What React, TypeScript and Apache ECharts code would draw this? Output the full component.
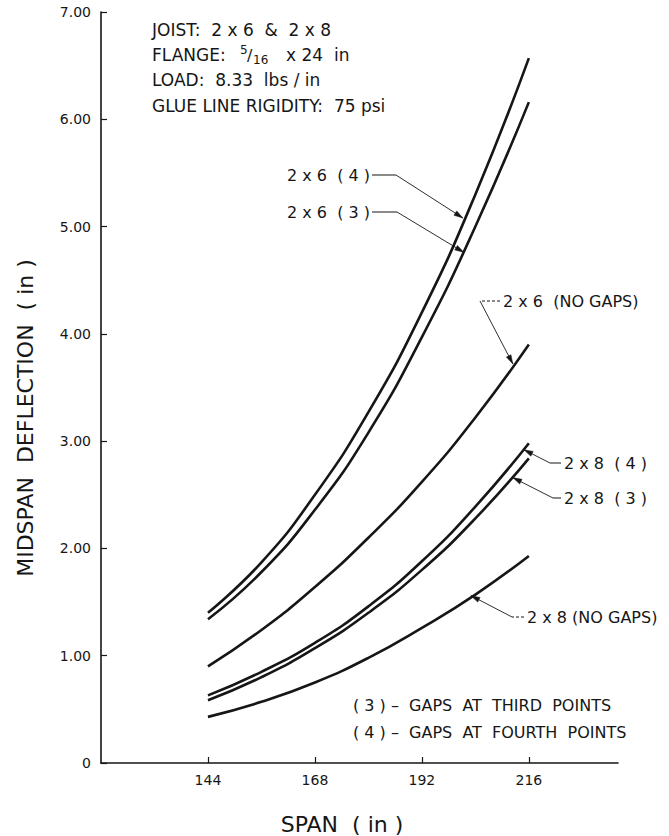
import React, { useEffect, useRef } from "react";
import * as echarts from "echarts";

const FONT = "'DejaVu Sans', 'Liberation Sans', sans-serif";
const INK = "#161616";

// Span (in) at which the curves were read
const spans = [144, 156, 168, 180, 192, 204, 216];

// Midspan deflection (in)
const joist2x6Gap4 = [1.4, 1.87, 2.5, 3.27, 4.2, 5.3, 6.57];
const joist2x6Gap3 = [1.34, 1.78, 2.36, 3.08, 3.97, 5.0, 6.16];
const joist2x6NoGap = [0.9, 1.24, 1.64, 2.1, 2.62, 3.22, 3.9];
const joist2x8Gap4 = [0.63, 0.85, 1.12, 1.46, 1.88, 2.39, 2.98];
const joist2x8Gap3 = [0.585, 0.8, 1.07, 1.4, 1.8, 2.28, 2.84];
const joist2x8NoGap = [0.43, 0.57, 0.75, 0.98, 1.26, 1.57, 1.93];

const seriesNames = ["2x6 (4)", "2x6 (3)", "2x6 (NO GAPS)", "2x8 (4)", "2x8 (3)", "2x8 (NO GAPS)"];
const seriesValues = [joist2x6Gap4, joist2x6Gap3, joist2x6NoGap, joist2x8Gap4, joist2x8Gap3, joist2x8NoGap];

// Axis ticks
const xTickValues = [144, 168, 192, 216];
const yTickValues = [0, 1, 2, 3, 4, 5, 6, 7];

// Curve labels and where their arrows touch the curves (data coords)
const curveLabelTexts = ["2 x 6  ( 4 )", "2 x 6  ( 3 )", "2 x 6  (NO GAPS)", "2 x 8  ( 4 )", "2 x 8  ( 3 )", "2 x 8 (NO GAPS)"];
const arrowTipSpans = [201.2, 201.4, 212.4, 214.9, 212.4, 203.0];
const arrowTipValues = [5.08, 4.76, 3.72, 2.92, 2.66, 1.56];

// Header notes
const noteLines = ["JOIST:  2 x 6  &  2 x 8", "FLANGE:", "LOAD:  8.33  lbs / in", "GLUE LINE RIGIDITY:  75 psi"];
const legendLines = ["( 3 ) –  GAPS  AT  THIRD  POINTS", "( 4 ) –  GAPS  AT  FOURTH  POINTS"];

// label layout (pixels)
const labelLayout = [
  { x: 287, y: 175, start: 372, elbow: 396, dashed: false },
  { x: 287, y: 212, start: 372, elbow: 397, dashed: false },
  { x: 503, y: 301, start: 500, elbow: 480, dashed: true },
  { x: 564, y: 463, start: 561, elbow: 550, dashed: false },
  { x: 564, y: 498, start: 561, elbow: 553, dashed: false },
  { x: 527, y: 617, start: 524, elbow: 512, dashed: true },
];

export default function App() {
  const ref = useRef<HTMLDivElement>(null);

  useEffect(() => {
    if (!ref.current) return;
    const chart = echarts.init(ref.current, null, { renderer: "svg" });

    const series = seriesValues.map((vals, i) => ({
      name: seriesNames[i],
      type: "line",
      data: spans.map((s, j) => [s, vals[j]]),
      smooth: 0.5,
      showSymbol: false,
      symbol: "none",
      lineStyle: { color: INK, width: 2.6 },
      silent: true,
    }));

    chart.setOption({
      animation: false,
      backgroundColor: "#ffffff",
      grid: { left: 101, right: 51, top: 12, bottom: 73 },
      xAxis: {
        type: "value",
        min: 120,
        max: 236,
        interval: 24,
        axisLine: { show: true, lineStyle: { color: INK, width: 1.6 } },
        axisTick: { show: true, inside: true, length: 6, lineStyle: { color: INK, width: 1.2 } },
        axisLabel: {
          showMinLabel: false,
          showMaxLabel: false,
          margin: 10,
          color: INK,
          fontFamily: FONT,
          fontSize: 14,
          formatter: (v: number) => (xTickValues.includes(v) ? String(v) : ""),
        },
        splitLine: { show: false },
      },
      yAxis: {
        type: "value",
        min: 0,
        max: 7,
        interval: 1,
        axisLine: { show: true, lineStyle: { color: INK, width: 1.6 } },
        axisTick: { show: true, inside: true, length: 6, lineStyle: { color: INK, width: 1.2 } },
        axisLabel: {
          margin: 10,
          color: INK,
          fontFamily: FONT,
          fontSize: 14,
          formatter: (v: number) => (yTickValues.includes(v) ? (v === 0 ? "0" : v.toFixed(2)) : ""),
        },
        splitLine: { show: false },
      },
      series,
    });

    const toPx = (x: number, y: number) => chart.convertToPixel({ seriesIndex: 0 }, [x, y]) as number[];

    const elements: any[] = [];
    const textStyle = (text: string, size: number, extra: any = {}) => ({
      text,
      fill: INK,
      font: `${size}px ${FONT}`,
      textVerticalAlign: "middle",
      ...extra,
    });

    // axis titles
    elements.push({
      type: "text",
      x: 25,
      y: 418,
      rotation: Math.PI / 2,
      style: textStyle("MIDSPAN  DEFLECTION  ( in )", 22, { textAlign: "center" }),
    });
    elements.push({
      type: "text",
      x: 342,
      y: 824,
      style: textStyle("SPAN  ( in )", 22, { textAlign: "center" }),
    });

    // notes
    const noteY = [30, 55, 80, 106];
    noteLines.forEach((t, i) => {
      elements.push({ type: "text", x: 152, y: noteY[i], style: textStyle(t, 17, { textAlign: "left" }) });
    });
    // FLANGE fraction
    elements.push({ type: "text", x: 240, y: noteY[1] - 5, style: textStyle("5", 12, { textAlign: "left" }) });
    elements.push({ type: "text", x: 247, y: noteY[1], style: textStyle("/", 16, { textAlign: "left" }) });
    elements.push({ type: "text", x: 253, y: noteY[1] + 5, style: textStyle("16", 12, { textAlign: "left" }) });
    elements.push({ type: "text", x: 286, y: noteY[1], style: textStyle("x 24  in", 17, { textAlign: "left" }) });

    // legend notes
    legendLines.forEach((t, i) => {
      elements.push({ type: "text", x: 353, y: 705 + i * 27, style: textStyle(t, 16, { textAlign: "left" }) });
    });

    // curve labels with leaders and arrows
    curveLabelTexts.forEach((t, i) => {
      const L = labelLayout[i];
      const tip = toPx(arrowTipSpans[i], arrowTipValues[i]);
      elements.push({ type: "text", x: L.x, y: L.y, style: textStyle(t, 16, { textAlign: "left" }) });
      elements.push({
        type: "line",
        shape: { x1: L.start, y1: L.y, x2: L.elbow, y2: L.y },
        style: { stroke: INK, lineWidth: 1, lineDash: L.dashed ? [3, 2] : null },
      });
      elements.push({
        type: "line",
        shape: { x1: L.elbow, y1: L.y, x2: tip[0], y2: tip[1] },
        style: { stroke: INK, lineWidth: 0.9 },
      });
      const dx = tip[0] - L.elbow;
      const dy = tip[1] - L.y;
      const len = Math.hypot(dx, dy) || 1;
      const ux = dx / len;
      const uy = dy / len;
      const al = 9;
      const aw = 2.6;
      elements.push({
        type: "polygon",
        shape: {
          points: [
            [tip[0], tip[1]],
            [tip[0] - ux * al - uy * aw, tip[1] - uy * al + ux * aw],
            [tip[0] - ux * al + uy * aw, tip[1] - uy * al - ux * aw],
          ],
        },
        style: { fill: INK, stroke: INK, lineWidth: 0.5 },
      });
    });

    chart.setOption({ graphic: { elements } });

    return () => chart.dispose();
  }, []);

  return (
    <div
      ref={ref}
      style={{ position: "absolute", left: 0, top: 0, width: 669, height: 836, background: "#fff" }}
    />
  );
}
